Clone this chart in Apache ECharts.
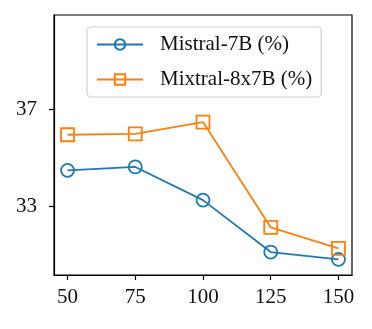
<!DOCTYPE html>
<html>
<head>
<meta charset="utf-8">
<script src="https://cdn.jsdelivr.net/npm/echarts@6/dist/echarts.min.js"></script>
<style>
html,body{margin:0;padding:0;background:#fff;}
#chart{width:372px;height:329px;}
</style>
</head>
<body>
<div id="chart"></div>
<script>
var xValues=[50,75,100,125,150];
var mistral=[34.49,34.63,33.27,31.14,30.84];
var mixtral=[35.95,35.99,36.47,32.15,31.29];
var yTicks=[33,37];
var names=["Mistral-7B (%)","Mixtral-8x7B (%)"];
var colors=["#1f77b4","#ff7f0e"];
var FONT="Liberation Serif";

function pairs(vals){
	var out=[];
	for(var i=0;i<xValues.length;i++){
		out[out.length]=[xValues[i],vals[i]];
	}
	return out;
}
function makeSeries(name,vals,color,symbol){
	return {
		name:name,
		type:"line",
		data:pairs(vals),
		symbol:symbol,
		symbolSize:13,
		showSymbol:true,
		lineStyle:{color:color,width:1.8},
		itemStyle:{color:"rgba(255,255,255,0)",borderColor:color,borderWidth:1.8},
		emphasis:{disabled:true},
		animation:false
	};
}
var chart=echarts.init(document.getElementById("chart"),null,{renderer:"canvas"});
chart.setOption({
	animation:false,
	grid:{left:54,right:20,top:15,bottom:54,show:true,borderColor:"#000",borderWidth:1.2,backgroundColor:"transparent"},
	legend:{
		top:27,left:87,
		orient:"vertical",
		itemWidth:46,itemHeight:13,itemGap:14,
		padding:[7,9,7,9],
		backgroundColor:"#fff",
		borderColor:"#d0d0d0",borderWidth:1.2,borderRadius:4,
		textStyle:{fontFamily:FONT,fontSize:21,color:"#111",padding:[0,0,0,12]},
		data:names
	},
	xAxis:{
		type:"value",min:45,max:155,
		axisLine:{show:true,lineStyle:{color:"#000",width:1.2}},
		axisTick:{show:true,length:5,lineStyle:{color:"#000",width:1.2},customValues:xValues},
		axisLabel:{fontFamily:FONT,fontSize:21,color:"#111",margin:12,customValues:xValues},
		splitLine:{show:false}
	},
	yAxis:{
		type:"value",min:30.2,max:40.86,
		axisLine:{show:true,lineStyle:{color:"#000",width:1.2}},
		axisTick:{show:true,length:5,lineStyle:{color:"#000",width:1.2},customValues:yTicks},
		axisLabel:{fontFamily:FONT,fontSize:21,color:"#111",margin:17,customValues:yTicks},
		splitLine:{show:false}
	},
	series:[
		makeSeries(names[0],mistral,colors[0],"circle"),
		makeSeries(names[1],mixtral,colors[1],"rect")
	]
});
</script>
</body>
</html>
